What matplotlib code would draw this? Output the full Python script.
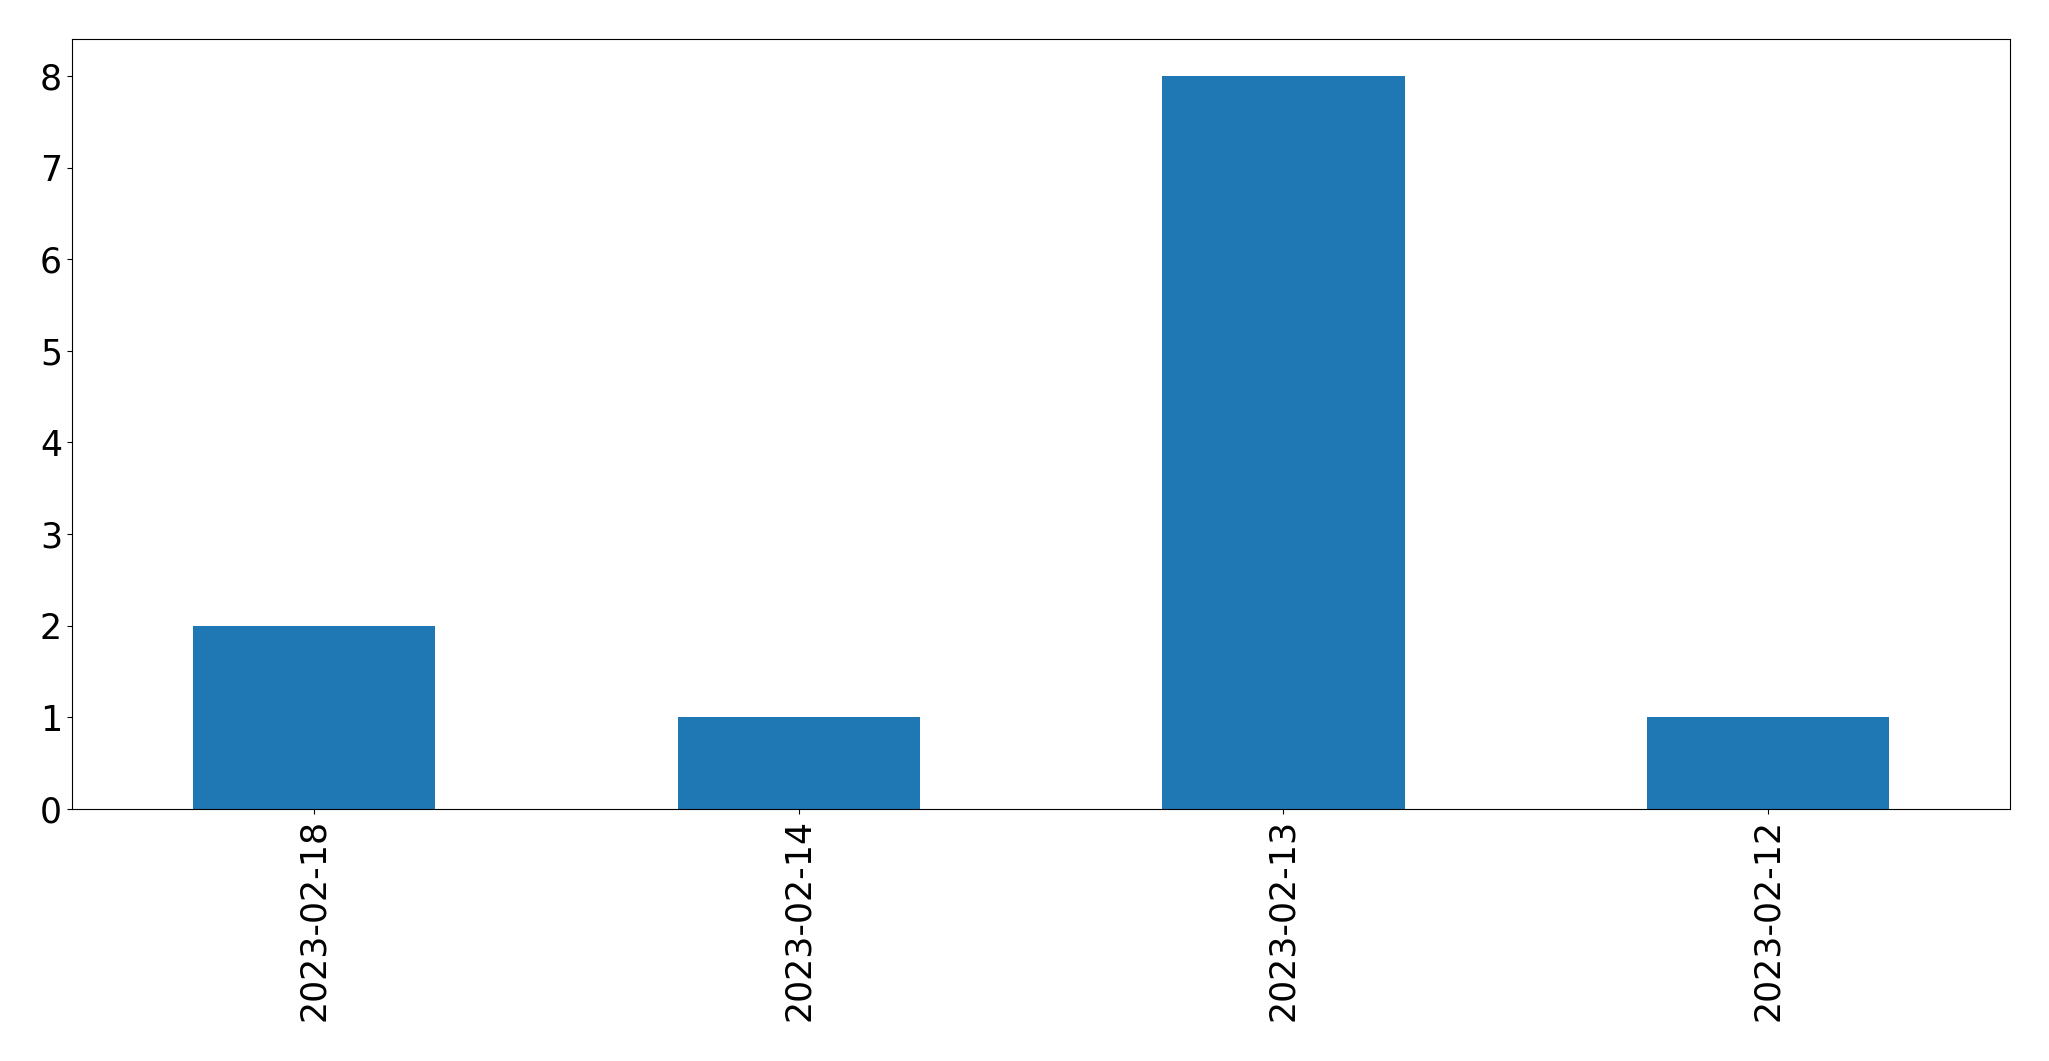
import matplotlib
matplotlib.use('Agg')
import matplotlib.pyplot as plt
import pandas as pd

# данные
dates = ['2023-02-18', '2023-02-14', '2023-02-13', '2023-02-12']
counts = [2, 1, 8, 1]

s = pd.Series(counts, index=dates)

fig = plt.figure(figsize=(20.49, 10.61), dpi=100)
ax = fig.add_axes([0.035, 0.2375, 0.9462, 0.7255])
s.plot(kind='bar', ax=ax, color='#1f77b4', fontsize=25)
ax.tick_params(axis='both', labelsize=25)

fig.savefig('out.png', dpi=100)
